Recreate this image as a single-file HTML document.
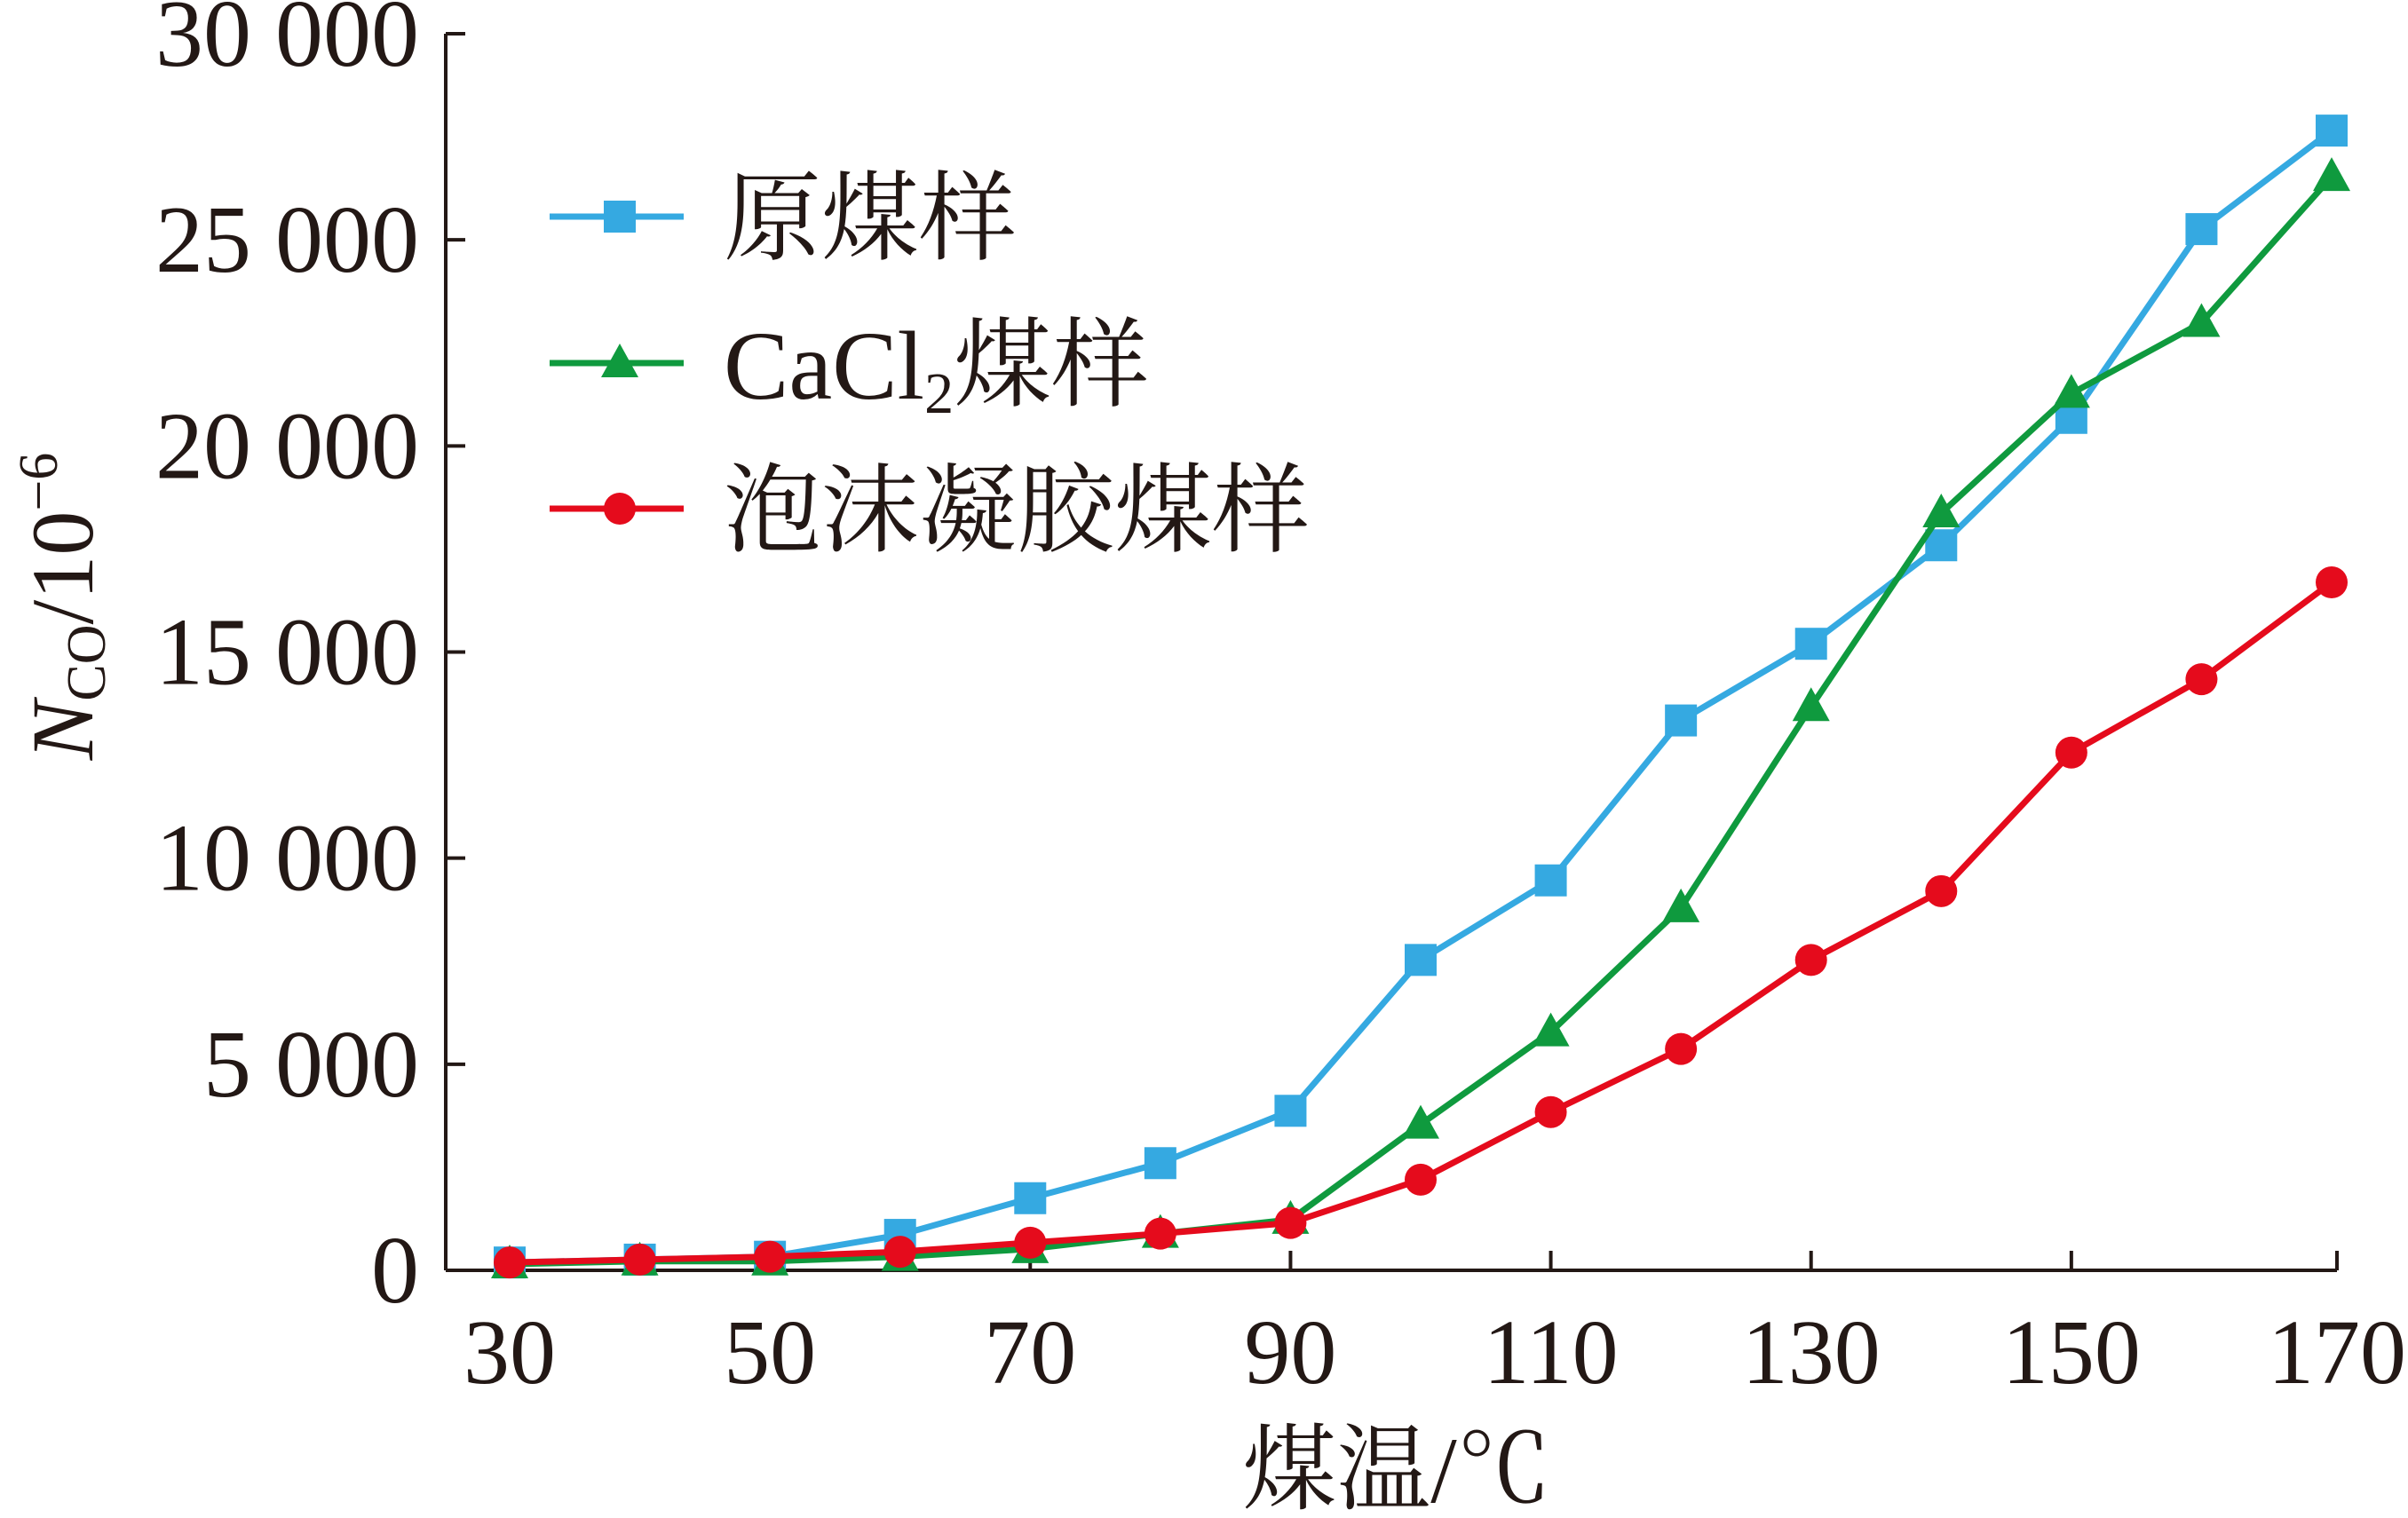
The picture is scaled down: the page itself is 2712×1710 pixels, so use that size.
<!DOCTYPE html>
<html><head><meta charset="utf-8"><style>
html,body{margin:0;padding:0;background:#fff;}
svg{display:block;}
text{font-family:"Liberation Serif","Noto Serif CJK SC",serif;fill:#231815;}
</style></head><body>
<svg id="chart" width="2712" height="1710" viewBox="0 0 2712 1710" xmlns="http://www.w3.org/2000/svg">
<g id="axes"></g>
<g id="series"></g>
<g id="legend"></g>
</svg>
<script>
const temps = [30,40,50,60,70,80,90,100,110,120,130,140,150,160,170];
const rawCoal = [190,260,330,860,1750,2600,3870,7530,9460,13340,15200,17590,20680,25260,27650];
const cacl2Coal = [150,220,220,330,520,890,1230,3540,5780,8790,13670,18370,21270,22990,26530];
const foamCoal = [190,260,330,450,670,890,1150,2200,3840,5370,7530,9200,12560,14340,16690];
const yTicks = [0,5000,10000,15000,20000,25000,30000];
const yTickLabels = ["0","5 000","10 000","15 000","20 000","25 000","30 000"];
const xTicks = [30,50,70,90,110,130,150,170];
const seriesNames = ["原煤样","CaCl₂煤样","泡沫凝胶煤样"];

const NS="http://www.w3.org/2000/svg";
const X0=574, X1=2626, Y0=1431, Y1=38, AX=502, AXR=2632;
const xs=v=>X0+(v-30)/(170-30)*(X1-X0);
const ys=v=>Y0-v/30000*(Y0-Y1);
function mk(tag,attrs,parent){const e=document.createElementNS(NS,tag);for(const k in attrs)e.setAttribute(k,attrs[k]);parent.appendChild(e);return e;}
const axes=document.getElementById('axes');
let l=mk('line',{x1:AX,y1:Y0,x2:AXR,y2:Y0,stroke:'#231815','stroke-width':4},axes);


l=mk('line',{x1:AX,y1:Y0,x2:AX,y2:Y1,stroke:'#231815','stroke-width':4},axes);


yTicks.forEach((v,i)=>{
  const t=mk('line',{x1:AX,y1:ys(v),x2:AX+22,y2:ys(v),stroke:'#231815','stroke-width':4},axes);
  
  
  const tx=mk('text',{x:472,y:ys(v)+36,'font-size':108,'text-anchor':'end'},axes);
  tx.textContent=yTickLabels[i];
  
  
});
xTicks.forEach(v=>{
  const tx0=v===170?AXR:xs(v);
  const t=mk('line',{x1:tx0,y1:Y0,x2:tx0,y2:Y0-22,stroke:'#231815','stroke-width':4},axes);
  
  
  const tx=mk('text',{x:tx0,y:1558,'font-size':104,'text-anchor':'middle'},axes);
  tx.textContent=String(v);
  
  
});
let xt=mk('text',{x:1573,y:1692,'font-size':106,'text-anchor':'middle'},axes);
xt.textContent='煤温/℃';


let yt=mk('text',{transform:'translate(104,683) rotate(-90)','font-size':100,'text-anchor':'middle'},axes);
yt.innerHTML='<tspan font-style="italic">N</tspan><tspan font-size="62" dy="14">CO</tspan><tspan dy="-14">/10</tspan><tspan font-size="62" dy="-40">−6</tspan>';



const colors=['#35a9e1','#0f9a3e','#e50b1c'];
const data=[rawCoal,cacl2Coal,foamCoal];
const shapes=['square','triangle','circle'];
const sg=document.getElementById('series');
function marker(shape,x,y,c,p){
  let m;
  if(shape==='square') m=mk('rect',{x:x-18,y:y-18,width:36,height:36,fill:c},p);
  else if(shape==='triangle') m=mk('polygon',{points:`${x},${y-22} ${x-21},${y+16} ${x+21},${y+16}`,fill:c},p);
  else m=mk('circle',{cx:x,cy:y,r:18,fill:c},p);
  return m;
}
[0,1,2].forEach(si=>{
  const g=mk('g',{},sg);
  
  
  const pts=temps.map((t,i)=>xs(t)+','+ys(data[si][i])).join(' ');
  const pl=mk('polyline',{points:pts,fill:'none',stroke:colors[si],'stroke-width':7,'stroke-linejoin':'round'},g);
  
  
  temps.forEach((t,i)=>{
    const m=marker(shapes[si],xs(t),ys(data[si][i]),colors[si],g);
    
    
  });
});
const lg=document.getElementById('legend');
const ly=[244,409,573];
[0,1,2].forEach(i=>{
  const g=mk('g',{},lg);
  
  
  mk('line',{x1:619,y1:ly[i],x2:770,y2:ly[i],stroke:colors[i],'stroke-width':7},g);
  marker(shapes[i],698,ly[i],colors[i],g);
  const t=mk('text',{x:815,y:ly[i]+40,'font-size':110},g);
  if(i===1) t.innerHTML='CaCl<tspan font-size="66" dy="16">2</tspan><tspan dy="-16">煤样</tspan>';
  else t.textContent=seriesNames[i];
});
</script>
</body></html>
